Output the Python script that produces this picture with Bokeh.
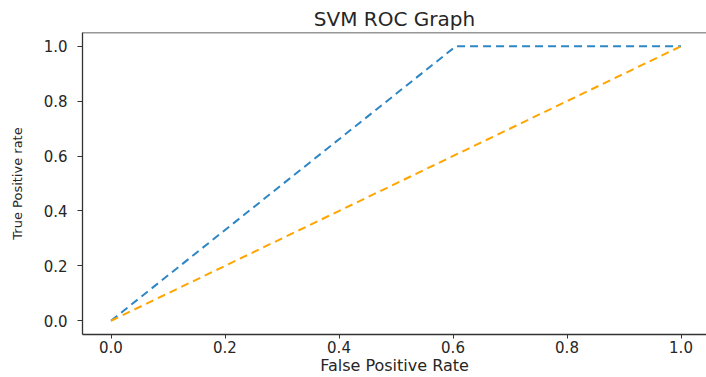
from bokeh.plotting import figure
from bokeh.models import Range1d, FixedTicker, Span, NumeralTickFormatter
from bokeh.embed import file_html
from bokeh.resources import INLINE

# Data
svm_fpr = [0.0, 0.605, 1.0]
svm_tpr = [0.0, 1.0, 1.0]
base_fpr = [0.0, 1.0]
base_tpr = [0.0, 1.0]
ticks = [0.0, 0.2, 0.4, 0.6, 0.8, 1.0]

TXT = "#262626"
FONT = "DejaVu Sans"

p = figure(width=706, height=377, output_backend="svg", toolbar_location=None,
           x_range=Range1d(-0.05, 1.0447), y_range=Range1d(-0.05, 1.05),
           min_border_left=82, min_border_right=0, min_border_top=32, min_border_bottom=0,
           title="SVM ROC Graph")
p.title.align = "center"
p.title.text_font = FONT
p.title.text_font_size = "20px"
p.title.text_font_style = "normal"
p.title.text_color = TXT
p.title.standoff = 4

p.outline_line_color = None
p.grid.visible = False
p.background_fill_color = "white"
p.border_fill_color = "white"

for ax in (p.xaxis[0], p.yaxis[0]):
    ax.ticker = FixedTicker(ticks=ticks)
    ax.formatter = NumeralTickFormatter(format="0.0")
    ax.minor_tick_line_color = None
    ax.major_tick_in = 0
    ax.major_tick_out = 5
    ax.major_tick_line_color = "#333333"
    ax.axis_line_color = "#333333"
    ax.axis_line_width = 1.3
    ax.major_label_text_font = FONT
    ax.major_label_text_font_size = "15px"
    ax.major_label_text_color = TXT
    ax.axis_label_text_font = FONT
    ax.axis_label_text_font_style = "normal"
    ax.axis_label_text_color = TXT

p.xaxis[0].axis_label = "False Positive Rate"
p.xaxis[0].axis_label_text_font_size = "16px"
p.xaxis[0].axis_label_standoff = 0
p.xaxis[0].major_label_standoff = 2
p.xaxis[0].major_tick_out = 4
p.yaxis[0].axis_label = "True Positive rate"
p.yaxis[0].axis_label_text_font_size = "13px"
p.yaxis[0].axis_label_standoff = 16
p.yaxis[0].major_label_standoff = 10

top = Span(location=1.05, dimension="width", line_color="#333333", line_width=1.3)
p.add_layout(top)

p.line(svm_fpr, svm_tpr, line_color="#2f86c4", line_width=2, line_dash="8 5")
p.line(base_fpr, base_tpr, line_color="#ffa500", line_width=2, line_dash="8 5")

open("out.html", "w").write(file_html(p, INLINE))
